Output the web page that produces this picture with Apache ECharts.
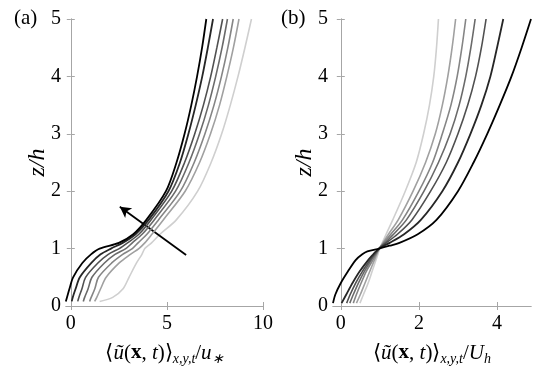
<!DOCTYPE html>
<html>
<head>
<meta charset="utf-8">
<script src="https://cdn.jsdelivr.net/npm/echarts@6/dist/echarts.min.js"></script>
<style>
  html, body { margin: 0; padding: 0; background: #fff; }
  #main { width: 545px; height: 375px; }
</style>
</head>
<body>
<div id="main"></div>
<script>
// panel (a): heights z/h and mean velocity / u*  (dark -> light)
const zA = [0.08, 0.15, 0.3, 0.5, 0.75, 0.9, 1.0, 1.1, 1.25, 1.5, 2.0, 2.5, 3.0, 3.5, 4.0, 4.5, 5.0];
const a1 = [-0.26, -0.2, -0.07, 0.12, 0.6, 1.05, 1.5, 2.5, 3.25, 3.93, 4.95, 5.5, 5.92, 6.27, 6.57, 6.83, 7.05];
const a2 = [0.05, 0.1, 0.25, 0.47, 1.07, 1.55, 2.09, 2.7, 3.37, 4.05, 5.08, 5.68, 6.12, 6.5, 6.84, 7.13, 7.4];
const a3 = [0.36, 0.42, 0.58, 0.77, 1.41, 1.95, 2.52, 2.95, 3.54, 4.17, 5.25, 5.92, 6.45, 6.9, 7.28, 7.6, 7.9];
const a4 = [0.65, 0.72, 0.9, 1.1, 1.75, 2.3, 2.86, 3.2, 3.71, 4.34, 5.45, 6.15, 6.7, 7.16, 7.54, 7.87, 8.15];
const a5 = [0.98, 1.06, 1.25, 1.44, 2.13, 2.7, 3.2, 3.5, 3.96, 4.56, 5.7, 6.42, 6.98, 7.45, 7.84, 8.17, 8.45];
const a6 = [1.24, 1.35, 1.55, 1.84, 2.52, 3.1, 3.54, 3.85, 4.22, 4.81, 5.95, 6.7, 7.27, 7.74, 8.12, 8.46, 8.75];
const a7 = [1.5, 2.18, 2.72, 3.03, 3.42, 3.7, 3.85, 4.2, 4.64, 5.49, 6.6, 7.3, 7.85, 8.3, 8.7, 9.06, 9.4];

// panel (b): mean velocity / U_h
const zB = [0.05, 0.2, 0.4, 0.6, 0.8, 0.9, 0.95, 1.0, 1.05, 1.1, 1.25, 1.5, 2.0, 2.5, 3.0, 3.5, 4.0, 4.5, 5.0];
const b1 = [-0.2, -0.14, 0.0, 0.18, 0.38, 0.55, 0.68, 0.98, 1.25, 1.5, 1.97, 2.45, 3.0, 3.4, 3.75, 4.07, 4.37, 4.63, 4.87];
const b2 = [0.02, 0.14, 0.3, 0.48, 0.7, 0.83, 0.9, 0.98, 1.1, 1.25, 1.62, 2.05, 2.6, 3.0, 3.32, 3.6, 3.83, 4.0, 4.16];
const b3 = [0.15, 0.24, 0.38, 0.55, 0.75, 0.86, 0.92, 0.98, 1.06, 1.16, 1.45, 1.82, 2.3, 2.7, 3.0, 3.25, 3.45, 3.6, 3.72];
const b4 = [0.23, 0.32, 0.45, 0.6, 0.78, 0.88, 0.93, 0.98, 1.05, 1.13, 1.35, 1.68, 2.13, 2.5, 2.8, 3.03, 3.2, 3.33, 3.44];
const b5 = [0.32, 0.4, 0.52, 0.65, 0.82, 0.9, 0.94, 0.98, 1.04, 1.1, 1.28, 1.58, 2.0, 2.35, 2.6, 2.82, 2.98, 3.1, 3.2];
const b6 = [0.4, 0.5, 0.62, 0.74, 0.86, 0.92, 0.95, 0.99, 1.03, 1.08, 1.22, 1.47, 1.85, 2.17, 2.42, 2.6, 2.74, 2.85, 2.94];
const b7 = [0.49, 0.58, 0.7, 0.8, 0.9, 0.95, 0.97, 1.0, 1.03, 1.06, 1.16, 1.33, 1.65, 1.93, 2.12, 2.27, 2.38, 2.45, 2.5];

const grays = ['#000000', '#262626', '#505050', '#6a6a6a', '#858585', '#a0a0a0', '#cfcfcf'];

const xTicksA = [0, 5, 10];
const xTicksB = [0, 2, 4];
const arrowFrom = [6.0, 0.89];
const arrowTo = [2.55, 1.73];

const serif = "'Liberation Serif', 'Times New Roman', serif";
const frame = '#a6a6a6';

const nameRich = {
  a: { fontFamily: serif, fontSize: 21, color: '#000' },
  i: { fontFamily: serif, fontSize: 21, fontStyle: 'italic', color: '#000' },
  b: { fontFamily: serif, fontSize: 21, fontWeight: 'bold', color: '#000' },
  s: { fontFamily: serif, fontSize: 14, fontStyle: 'italic', color: '#000', verticalAlign: 'bottom', lineHeight: 26 }
};

function bottomAxis(grid, min, max, ticks, name) {
  return {
    type: 'value', gridIndex: grid, position: 'bottom', min: min, max: max,
    axisLine: { show: true, lineStyle: { color: frame, width: 1 } },
    axisTick: { show: true, inside: true, length: 4, customValues: ticks, lineStyle: { color: frame } },
    axisLabel: { customValues: ticks, color: '#000', fontFamily: serif, fontSize: 20, margin: 8 },
    splitLine: { show: false },
    name: name, nameLocation: 'middle', nameGap: 34, nameMoveOverlap: false,
    nameTextStyle: { rich: nameRich, lineHeight: 26 }
  };
}
function topAxis(grid, min, max, ticks) {
  return {
    type: 'value', gridIndex: grid, position: 'top', min: min, max: max,
    axisLine: { show: true, lineStyle: { color: frame, width: 1 } },
    axisTick: { show: true, inside: true, length: 4, customValues: ticks, lineStyle: { color: frame } },
    axisLabel: { show: false }, splitLine: { show: false }
  };
}
function leftAxis(grid) {
  return {
    type: 'value', gridIndex: grid, position: 'left', min: 0, max: 5, interval: 1,
    axisLine: { show: true, lineStyle: { color: frame, width: 1 } },
    axisTick: { show: true, inside: true, length: 4, lineStyle: { color: frame } },
    axisLabel: { color: '#000', fontFamily: serif, fontSize: 20, margin: 5 },
    splitLine: { show: false },
    name: 'z/h', nameLocation: 'middle', nameGap: 16, nameRotate: 90, nameMoveOverlap: false,
    nameTextStyle: { fontFamily: serif, fontSize: 24, fontStyle: 'italic', color: '#000' }
  };
}
function rightAxis(grid) {
  return {
    type: 'value', gridIndex: grid, position: 'right', min: 0, max: 5, interval: 1,
    axisLine: { show: true, lineStyle: { color: frame, width: 1 } },
    axisTick: { show: true, inside: true, length: 4, lineStyle: { color: frame } },
    axisLabel: { show: false }, splitLine: { show: false }
  };
}

function profileSeries(xs, zs, i, axisIdx) {
  return {
    type: 'line', xAxisIndex: axisIdx, yAxisIndex: axisIdx,
    data: zs.map((z, j) => [xs[j], z]),
    showSymbol: false, smooth: 0.3,
    lineStyle: { color: grays[i], width: i < 2 ? 1.8 : 1.6 },
    silent: true, z: 10 - i
  };
}

const chart = echarts.init(document.getElementById('main'), null, { renderer: 'canvas' });

const seriesA = [a1, a2, a3, a4, a5, a6, a7].map((xs, i) => profileSeries(xs, zA, i, 0));
const seriesB = [b1, b2, b3, b4, b5, b6, b7].map((xs, i) => profileSeries(xs, zB, i, 1));

// arrow in panel (a)
seriesA.push({
  type: 'line', xAxisIndex: 0, yAxisIndex: 0, data: [], silent: true, z: 20,
  markLine: {
    silent: true, animation: false,
    symbol: ['none', 'arrow'], symbolSize: [9, 11],
    label: { show: false },
    lineStyle: { color: '#000', width: 1.8, type: 'solid' },
    data: [[{ coord: arrowFrom }, { coord: arrowTo }]]
  }
});

const option = {
  animation: false,
  backgroundColor: '#fff',
  textStyle: { fontFamily: serif },
  grid: [
    { left: 66, top: 19, width: 197, height: 287 },
    { left: 333, top: 19, width: 198, height: 287 }
  ],
  xAxis: [
    bottomAxis(0, -0.25, 10, xTicksA, '{a|⟨}{i|ũ}{a|(}{b|x}{a|, }{i|t}{a|)⟩}{s|x,y,t}{a|/}{i|u}{s|∗}'),
    bottomAxis(1, -0.2, 4.87, xTicksB, '{a|⟨}{i|ũ}{a|(}{b|x}{a|, }{i|t}{a|)⟩}{s|x,y,t}{a|/}{i|U}{s|h}'),
    topAxis(0, -0.25, 10, xTicksA),
    topAxis(1, -0.2, 4.87, xTicksB)
  ],
  yAxis: [leftAxis(0), leftAxis(1), rightAxis(0), rightAxis(1)],
  graphic: [
    { type: 'text', left: 14, top: 8, style: { text: '(a)', fontFamily: serif, fontSize: 21, fill: '#000' } },
    { type: 'text', left: 281, top: 8, style: { text: '(b)', fontFamily: serif, fontSize: 21, fill: '#000' } }
  ],
  series: seriesA.concat(seriesB)
};

chart.setOption(option);
</script>
</body>
</html>
